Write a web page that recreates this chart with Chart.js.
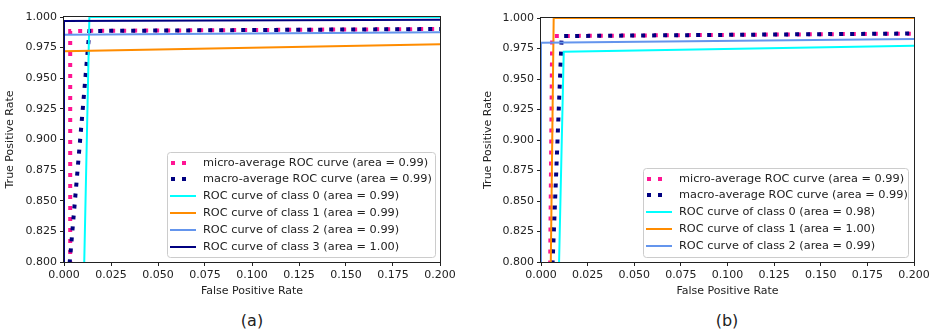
<!DOCTYPE html>
<html><head><meta charset="utf-8">
<script src="https://cdn.jsdelivr.net/npm/chart.js@4/dist/chart.umd.min.js"></script>
<style>
html,body{margin:0;padding:0;background:#fff;width:934px;height:335px;overflow:hidden;}
.wrap{position:absolute;top:0;}
canvas{display:block;}
.cap{position:absolute;font-family:'DejaVu Sans';font-size:16px;color:#222;transform:translateX(-50%);white-space:nowrap;}
</style></head><body>
<div class="wrap" style="left:0"><canvas id="ca" width="460" height="300"></canvas></div>
<div class="wrap" style="left:478px"><canvas id="cb" width="456" height="300"></canvas></div>
<div class="cap" style="left:252px;top:311px">(a)</div>
<div class="cap" style="left:727px;top:311px">(b)</div>
<script>
// ---- shared ticks ----
const xTickValues = [0, 0.025, 0.05, 0.075, 0.1, 0.125, 0.15, 0.175, 0.2];
const yTickValues = [0.8, 0.825, 0.85, 0.875, 0.9, 0.925, 0.95, 0.975, 1.0];

// ---- chart (a) ----
const labelsA = [
  'micro-average ROC curve (area = 0.99)',
  'macro-average ROC curve (area = 0.99)',
  'ROC curve of class 0 (area = 0.99)',
  'ROC curve of class 1 (area = 0.99)',
  'ROC curve of class 2 (area = 0.99)',
  'ROC curve of class 3 (area = 1.00)'
];
const microA_x = [0.0033, 0.0033, 0.2];
const microA_y = [0.6, 0.9886, 0.9902];
const macroA_x = [0.0025, 0.0135, 0.2];
const macroA_y = [0.79, 0.9886, 0.9902];
const class0A_x = [0.0105, 0.0135, 0.2];
const class0A_y = [0.78, 1.0, 1.0];
const class1A_x = [0, 0, 0.2];
const class1A_y = [0.6, 0.972, 0.9778];
const class2A_x = [0, 0, 0.2];
const class2A_y = [0.6, 0.9855, 0.9876];
const class3A_x = [0, 0, 0.2];
const class3A_y = [0.6, 0.9967, 0.9978];

// ---- chart (b) ----
const labelsB = [
  'micro-average ROC curve (area = 0.99)',
  'macro-average ROC curve (area = 0.99)',
  'ROC curve of class 0 (area = 0.98)',
  'ROC curve of class 1 (area = 1.00)',
  'ROC curve of class 2 (area = 0.99)'
];
const microB_x = [0.0048, 0.006, 0.2];
const microB_y = [0.78, 0.9852, 0.9872];
const macroB_x = [0.0057, 0.0111, 0.2];
const macroB_y = [0.78, 0.9852, 0.9873];
const class0B_x = [0.0094, 0.0122, 0.2];
const class0B_y = [0.78, 0.9724, 0.9773];
const class1B_x = [0.0051, 0.0068, 0.2];
const class1B_y = [0.78, 1.0, 1.0];
const class2B_x = [0, 0, 0.2];
const class2B_y = [0.6, 0.9798, 0.9828];

const colors = {micro:'#ff1493', macro:'#000080', c0:'#00ffff', c1:'#ff8c00', c2:'#6495ed', c3:'#000080'};

function pts(xs, ys){ return xs.map((x,i)=>({x:x, y:ys[i]})); }
function dotted(label, xs, ys, color, order){
  return {label, data:pts(xs,ys), borderColor:color, backgroundColor:color, borderWidth:4,
    borderDash:[4,7], borderCapStyle:'butt', pointRadius:0, tension:0, fill:false, order,
    clip:{left:2, top:3, right:0, bottom:0}};
}
function solid(label, xs, ys, color, order){
  return {label, data:pts(xs,ys), borderColor:color, backgroundColor:color, borderWidth:2,
    pointRadius:0, tension:0, fill:false, order, clip:{left:2, top:2, right:0, bottom:0}};
}

const framePlugin = {
  id:'frame',
  afterDatasetsDraw(chart){
    const {ctx, chartArea:a} = chart;
    ctx.save();
    ctx.strokeStyle = '#222'; ctx.lineWidth = 1;
    ctx.strokeRect(a.left - 0.5, a.top - 0.5, a.right - a.left + 1, a.bottom - a.top + 1);
    ctx.restore();
  }
};

const legendPlugin = {
  id:'boxLegend',
  afterDraw(chart, args, opts){
    const ctx = chart.ctx; const b = opts.box;
    ctx.save();
    ctx.beginPath();
    if (ctx.roundRect) ctx.roundRect(b.x + 0.5, b.y + 0.5, b.w, b.h, 3); else ctx.rect(b.x + 0.5, b.y + 0.5, b.w, b.h);
    ctx.fillStyle = 'rgba(255,255,255,0.85)'; ctx.fill();
    ctx.strokeStyle = '#cccccc'; ctx.lineWidth = 1; ctx.stroke();
    ctx.font = "11.3px 'DejaVu Sans'"; ctx.textBaseline = 'middle'; ctx.textAlign = 'left';
    chart.data.datasets.forEach((d, i) => {
      const cy = Math.round(b.y + opts.first + i * opts.step);
      ctx.beginPath();
      ctx.setLineDash(d.borderDash || []);
      ctx.lineCap = 'butt';
      ctx.lineWidth = d.borderWidth; ctx.strokeStyle = d.borderColor;
      const x0 = b.x + (d.borderDash ? 4 : 3);
      const len = d.borderDash ? 20 : 26;
      ctx.moveTo(x0, cy); ctx.lineTo(x0 + len, cy); ctx.stroke();
      ctx.setLineDash([]);
      ctx.fillStyle = '#222';
      ctx.fillText(d.label, b.x + 36, cy + 0.5);
    });
    ctx.restore();
  }
};

const fontTick = {family:'DejaVu Sans', size:11};
function makeOptions(yWidth, padTop, legendBox){
  return {
    responsive:false, animation:false, devicePixelRatio:1,
    layout:{padding:{left:0, right:20, top:padTop, bottom:0}},
    plugins:{legend:{display:false}, tooltip:{enabled:false},
      boxLegend:{box:legendBox, first:10.5, step:16.8}},
    scales:{
      x:{type:'linear', min:0, max:0.2,
        afterBuildTicks:s=>{ s.ticks = xTickValues.map(v=>({value:v})); },
        afterFit:s=>{ s.height = 38; },
        ticks:{callback:v=>Number(v).toFixed(3), font:fontTick, color:'#222', padding:3, maxRotation:0, autoSkip:false},
        grid:{display:true, drawOnChartArea:false, drawTicks:true, tickLength:4, color:'#222', tickWidth:1},
        border:{display:false},
        title:{display:true, text:'False Positive Rate', font:fontTick, color:'#222', padding:{top:0, bottom:2}}
      },
      y:{type:'linear', min:0.8, max:1.0,
        afterBuildTicks:s=>{ s.ticks = yTickValues.map(v=>({value:v})); },
        afterFit:s=>{ s.width = yWidth; },
        ticks:{callback:v=>Number(v).toFixed(3), font:fontTick, color:'#222', padding:3, autoSkip:false},
        grid:{display:true, drawOnChartArea:false, drawTicks:true, tickLength:4, color:'#222', tickWidth:1},
        border:{display:false},
        title:{display:true, text:'True Positive Rate', font:fontTick, color:'#222', padding:{top:4, bottom:0}}
      }
    }
  };
}

new Chart(document.getElementById('ca'), {
  type:'line',
  data:{datasets:[
    dotted(labelsA[0], microA_x, microA_y, colors.micro, 6),
    dotted(labelsA[1], macroA_x, macroA_y, colors.macro, 5),
    solid(labelsA[2], class0A_x, class0A_y, colors.c0, 4),
    solid(labelsA[3], class1A_x, class1A_y, colors.c1, 3),
    solid(labelsA[4], class2A_x, class2A_y, colors.c2, 2),
    solid(labelsA[5], class3A_x, class3A_y, colors.c3, 1)
  ]},
  options:makeOptions(64, 17, {x:167, y:152, w:268, h:105}),
  plugins:[framePlugin, legendPlugin]
});

new Chart(document.getElementById('cb'), {
  type:'line',
  data:{datasets:[
    dotted(labelsB[0], microB_x, microB_y, colors.micro, 5),
    dotted(labelsB[1], macroB_x, macroB_y, colors.macro, 4),
    solid(labelsB[2], class0B_x, class0B_y, colors.c0, 3),
    solid(labelsB[3], class1B_x, class1B_y, colors.c1, 2),
    solid(labelsB[4], class2B_x, class2B_y, colors.c2, 1)
  ]},
  options:makeOptions(63, 18, {x:165, y:168, w:265, h:89}),
  plugins:[framePlugin, legendPlugin]
});
</script>
</body></html>
